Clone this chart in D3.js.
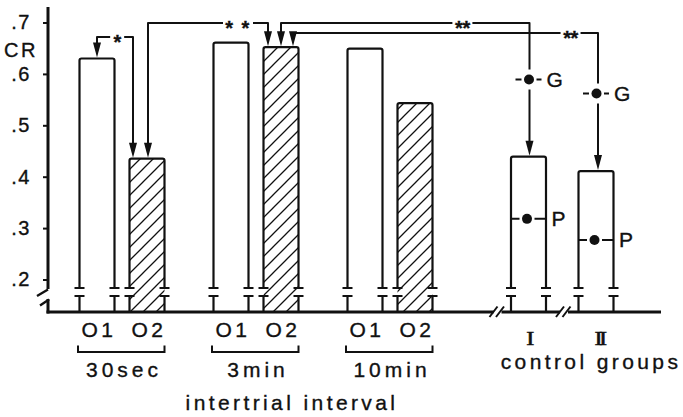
<!DOCTYPE html>
<html>
<head>
<meta charset="utf-8">
<script src="https://cdn.jsdelivr.net/npm/d3@7"></script>
<style>
  html, body { margin: 0; padding: 0; background: #fff; }
  svg { display: block; }
  text { font-family: "Liberation Sans", Arial, Helvetica, sans-serif; fill: #111; stroke: #111; stroke-width: 0.35; }
</style>
</head>
<body>
<svg id="chart" width="683" height="417"></svg>
<script>
// CR rate per observer position at three intertrial intervals, plus two control groups
const intervals = ["30sec", "3min", "10min"];
const observers = ["O1", "O2"];
const cr30sec = [0.630, 0.435];
const cr3min = [0.661, 0.652];
const cr10min = [0.649, 0.543];
const controlGroups = ["I", "II"];
const crControl = [0.439, 0.411];
const controlG = [0.589, 0.562];
const controlP = [0.318, 0.277];
const yTicks = [0.2, 0.3, 0.4, 0.5, 0.6, 0.7];
const yTickLabels = [".2", ".3", ".4", ".5", ".6", ".7"];
const compFrom = [["30sec", "O1"], ["30sec", "O2"], ["3min", "O2"], ["3min", "O2"]];
const compTo = [["30sec", "O2"], ["3min", "O2"], ["control", "I"], ["control", "II"]];
const compMarks = ["*", "* *", "**", "**"];

const svg = d3.select("#chart");
const ink = "#111";

// scales
const y = d3.scaleLinear().domain([0.2, 0.7]).range([279.5, 22.5]);
const xGroup = d3.scaleBand().domain(intervals).range([55, 457]).paddingInner(0);
const xObs = d3.scalePoint().domain(observers).range([-25, 25]);
const xCtrl = d3.scalePoint().domain(controlGroups).range([528.5, 596]);

const baseY = 312;     // x-axis line
const breakTop = 288;  // upper end of the broken bar sides
const breakBot = 296;  // lower end
const barW = 35;
const axisX = 48;

const byInterval = [cr30sec, cr3min, cr10min];
const bars = intervals.flatMap((g, gi) => observers.map((o, oi) => ({
  group: g, obs: o, value: byInterval[gi][oi], hatched: o === "O2",
  cx: xGroup(g) + xGroup.bandwidth() / 2 + xObs(o)
}))).concat(controlGroups.map((c, i) => ({
  group: "control", obs: c, value: crControl[i], hatched: false, cx: xCtrl(c),
  g: controlG[i], p: controlP[i]
})));
const findBar = ([g, o]) => bars.find(b => b.group === g && b.obs === o);

// hatch pattern
const defs = svg.append("defs");
defs.append("pattern")
  .attr("id", "hatch").attr("patternUnits", "userSpaceOnUse")
  .attr("width", 13).attr("height", 13)
  .append("path")
  .attr("d", "M-2,2 L2,-2 M0,13 L13,0 M11,15 L15,11")
  .attr("stroke", ink).attr("stroke-width", 1.3);

// bars
const barG = svg.append("g");
barG.selectAll("rect.hatch").data(bars.filter(b => b.hatched)).join("rect")
  .attr("class", "hatch")
  .attr("x", d => d.cx - barW / 2).attr("width", barW)
  .attr("y", d => y(d.value)).attr("height", d => baseY - y(d.value))
  .attr("fill", "url(#hatch)");

barG.selectAll("path.outline").data(bars).join("path")
  .attr("class", "outline")
  .attr("d", d => {
    const l = d.cx - barW / 2, r = d.cx + barW / 2, t = y(d.value);
    return `M${l},${breakTop} V${t + 2} Q${l},${t} ${l + 2},${t} H${r - 2} Q${r},${t} ${r},${t + 2} V${breakTop}`;
  })
  .attr("fill", "none").attr("stroke", ink).attr("stroke-width", 2.2);

// broken lower part of each bar side
const sides = bars.flatMap(b => [b.cx - barW / 2, b.cx + barW / 2]);
barG.selectAll("path.stub").data(sides).join("path")
  .attr("class", "stub")
  .attr("d", x => `M${x - 5},${breakTop} H${x + 5} M${x - 5},${breakBot} H${x + 5} M${x},${breakBot} V${baseY}`)
  .attr("fill", "none").attr("stroke", ink).attr("stroke-width", 2.2);

// y axis
const yAxis = d3.axisLeft(y).tickValues(yTicks).tickSize(5).tickPadding(12)
  .tickFormat((d, i) => yTickLabels[i]);
const yg = svg.append("g").attr("transform", `translate(${axisX},0)`).call(yAxis);
yg.select(".domain").remove();
yg.selectAll(".tick line").attr("stroke", ink).attr("stroke-width", 2);
yg.selectAll(".tick text").attr("font-size", 20).attr("letter-spacing", 1.5)
  .attr("fill", ink).style("font-family", '"Liberation Sans", Arial, sans-serif');

const axisG = svg.append("g").attr("stroke", ink).attr("fill", "none").attr("stroke-linecap", "butt");
axisG.append("path").attr("d", `M${axisX},7 V289`).attr("stroke-width", 3);
axisG.append("path").attr("d", `M${axisX},299 V${baseY + 1.5}`).attr("stroke-width", 3);
axisG.append("path").attr("d", `M37,296 L${axisX},289.5 M40,305.5 L${axisX + 1},299.5`).attr("stroke-width", 2.4);

// x axis with two breaks
const xBreaks = [497.5, 564];
axisG.append("path")
  .attr("d", `M${axisX - 1.5},${baseY} H${xBreaks[0] - 4} M${xBreaks[0] + 4},${baseY} H${xBreaks[1] - 4} M${xBreaks[1] + 4},${baseY} H661`)
  .attr("stroke-width", 3);
axisG.selectAll("path.brk").data(xBreaks).join("path")
  .attr("class", "brk")
  .attr("d", c => `M${c - 8},317 L${c},306.5 M${c - 1.5},317 L${c + 6.5},306.5`)
  .attr("stroke-width", 2);

svg.append("text").attr("x", 4).attr("y", 57).attr("font-size", 20)
  .attr("letter-spacing", 2.5).text("CR");

// observer labels
svg.selectAll("text.obs").data(bars.filter(b => b.group !== "control")).join("text")
  .attr("class", "obs")
  .attr("x", d => d.cx + 2).attr("y", 336.5)
  .attr("text-anchor", "middle").attr("font-size", 21).attr("letter-spacing", 3.5)
  .text(d => d.obs);

// interval brackets and labels
const brG = svg.append("g");
brG.selectAll("path").data(intervals).join("path")
  .attr("d", g => {
    const l = xGroup(g) + xGroup.bandwidth() / 2 + xObs("O1") - barW / 2 - 1.5;
    const r = xGroup(g) + xGroup.bandwidth() / 2 + xObs("O2") + barW / 2;
    return `M${l},345.5 V352 H${r} V345.5`;
  })
  .attr("fill", "none").attr("stroke", ink).attr("stroke-width", 2);
brG.selectAll("text").data(intervals).join("text")
  .attr("x", g => xGroup(g) + xGroup.bandwidth() / 2 + 2).attr("y", 377)
  .attr("text-anchor", "middle").attr("font-size", 21).attr("letter-spacing", 4)
  .text(g => g);

svg.append("text").attr("x", 292).attr("y", 410).attr("text-anchor", "middle")
  .attr("font-size", 21).attr("letter-spacing", 3.4).text("intertrial interval");

// control group labels: roman numerals with wide serifs
svg.selectAll("text.ctrl").data(controlGroups).join("text")
  .attr("class", "ctrl")
  .attr("transform", (c, i) => `translate(${xCtrl(c) + (i ? 3 : 0)},344.5) scale(1.35,1)`)
  .attr("text-anchor", "middle").attr("font-size", 18).attr("letter-spacing", -2.6)
  .style("font-family", '"Liberation Serif", "DejaVu Serif", serif')
  .style("stroke-width", 0.5)
  .text(c => c);
svg.append("text").attr("x", 591).attr("y", 369).attr("text-anchor", "middle")
  .attr("font-size", 21).attr("letter-spacing", 3.4).text("control groups");

// G and P markers in control groups
const ctrlBars = bars.filter(b => b.group === "control");
const markG = svg.append("g");
function dotMarker(cx, cy, leftFrom, rightTo, label, labelX) {
  markG.append("circle").attr("cx", cx).attr("cy", cy).attr("r", 5).attr("fill", ink);
  markG.append("path")
    .attr("d", `M${leftFrom},${cy} H${cx - 7.5} M${cx + 7.5},${cy} H${rightTo}`)
    .attr("stroke", ink).attr("stroke-width", 2);
  markG.append("text").attr("x", labelX).attr("y", cy + 7.5).attr("font-size", 21).text(label);
}
ctrlBars.forEach(b => {
  dotMarker(b.cx + 0.5, y(b.g), b.cx - 13, b.cx + 13, "G", b.cx + 18);
  dotMarker(b.cx - 1.5, y(b.p), b.cx - barW / 2, b.cx + barW / 2, "P", b.cx + 23);
});

// comparison connectors with significance marks
const linkLevels = [37, 23, 23, 33];
const fromDx = [0, 1, 0, 12];
const toDx = [-14, -13, 1, 2];
const markAt = [0.56, 0.75, 0.73, 0.91];
const markGap = [7, 15, 10, 10];
const linkG = svg.append("g");

function arrowHead(x, tipY) {
  linkG.append("path")
    .attr("d", `M${x},${tipY} L${x - 4},${tipY - 15} L${x + 4},${tipY - 15} Z`)
    .attr("fill", ink);
}

compFrom.forEach((f, i) => {
  const a = findBar(f), b = findBar(compTo[i]);
  const x1 = a.cx + fromDx[i], x2 = b.cx + toDx[i], lv = linkLevels[i];
  const t1 = y(a.value) - 1, t2 = y(b.value) - 1;
  const sx = x1 + (x2 - x1) * markAt[i];
  const path = d3.path();
  path.moveTo(x1, t1 - 14);
  path.lineTo(x1, lv);
  path.lineTo(sx - markGap[i], lv);
  path.moveTo(sx + markGap[i], lv);
  path.lineTo(x2, lv);
  if (b.group === "control") {
    const gy = y(b.g);
    path.lineTo(x2, gy - 10);
    path.moveTo(x2, gy + 10);
  }
  path.lineTo(x2, t2 - 14);
  linkG.append("path").attr("d", path.toString())
    .attr("fill", "none").attr("stroke", ink).attr("stroke-width", 2)
    .attr("stroke-linejoin", "round");
  arrowHead(x1, t1);
  arrowHead(x2, t2);
  linkG.append("text").attr("x", sx).attr("y", lv + 12)
    .attr("text-anchor", "middle").attr("font-size", 20).attr("font-weight", "bold")
    .attr("letter-spacing", compMarks[i] === "* *" ? 1.5 : -0.5)
    .text(compMarks[i]);
});
</script>
</body>
</html>
